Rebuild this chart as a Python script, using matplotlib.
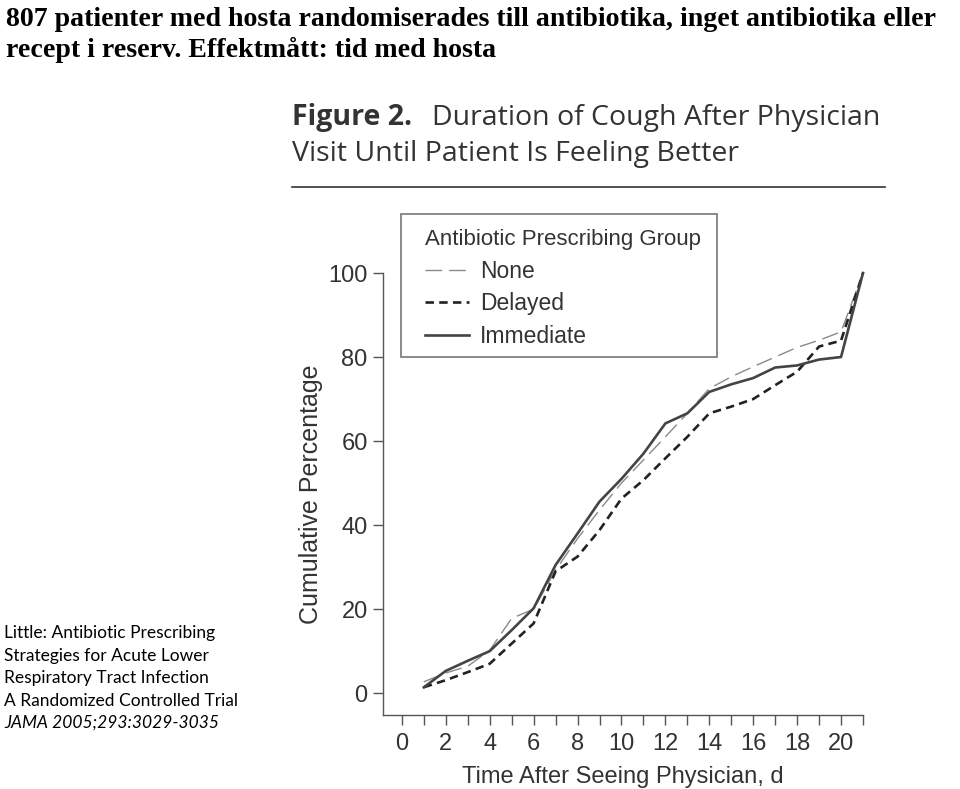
import numpy as np
import matplotlib.pyplot as plt
from matplotlib.patches import Rectangle

days = np.arange(1, 22)
none_pct = [2.7, 4.8, 6.4, 10.2, 17.8, 20.0, 29.3, 36.8, 43.6, 50.0, 55.5,
            61.0, 66.6, 72.5, 75.3, 77.7, 80.0, 82.3, 84.0, 86.0, 100.0]
delayed_pct = [1.4, 3.1, 5.0, 7.0, 11.8, 16.6, 29.0, 32.5, 38.8, 46.3, 50.7,
               55.9, 61.0, 66.6, 68.2, 70.0, 73.3, 76.5, 82.5, 83.9, 100.0]
immediate_pct = [1.4, 5.3, 7.7, 10.0, 15.0, 20.2, 30.5, 38.0, 45.6, 51.0, 57.0,
                 64.2, 66.6, 71.7, 73.5, 75.0, 77.5, 78.0, 79.4, 80.0, 100.0]

W, H = 960, 789
fig = plt.figure(figsize=(W / 100, H / 100), dpi=100)

def fx(px):
    return px / W

def fy(py):
    return 1 - py / H

# header in serif
fig.text(fx(6), fy(20), "807 patienter med hosta randomiserades till antibiotika, inget antibiotika eller",
         family="Liberation Serif", weight="bold", fontsize=20.1, va="center", ha="left")
fig.text(fx(6), fy(50), "recept i reserv. Effektmått: tid med hosta",
         family="Liberation Serif", weight="bold", fontsize=20.1, va="center", ha="left")

# figure title
fig.text(fx(292), fy(118), "Figure 2.", family="Open Sans", weight="bold", fontsize=20.5,
         color="#333333", va="center", ha="left")
fig.text(fx(432), fy(118), "Duration of Cough After Physician", family="Open Sans",
         fontsize=20.5, color="#333333", va="center", ha="left")
fig.text(fx(292), fy(154), "Visit Until Patient Is Feeling Better", family="Open Sans",
         fontsize=20.5, color="#333333", va="center", ha="left")
fig.add_artist(plt.Line2D([fx(292), fx(885)], [fy(187), fy(187)], color="#333333", lw=1.2))

# source text on the left
src = ["Little: Antibiotic Prescribing", "Strategies for Acute Lower",
       "Respiratory Tract Infection", "A Randomized Controlled Trial"]
for i, s in enumerate(src):
    fig.text(fx(4), fy(633 + 22.5 * i), s, family="Lato", fontsize=12.5, va="center", ha="left")
fig.text(fx(4), fy(633 + 22.5 * 4), "JAMA 2005;293:3029-3035", family="Lato", style="italic",
         fontsize=12.5, va="center", ha="left")

ax = fig.add_axes([fx(383), fy(715), fx(863) - fx(383), fy(273) - fy(715)])
ax.plot(days, none_pct, color="#8a8a8a", lw=1.0, ls=(0, (12, 5)), label="None", clip_on=False)
ax.plot(days, delayed_pct, color="#222222", lw=1.9, ls=(0, (3.2, 2)), label="Delayed", clip_on=False)
ax.plot(days, immediate_pct, color="#444444", lw=1.9, label="Immediate", clip_on=False)

ax.set_xlim(-0.86, 21)
ax.set_ylim(-5.2, 100)
for side in ["top", "right"]:
    ax.spines[side].set_visible(False)
for side in ["left", "bottom"]:
    ax.spines[side].set_color("#555555")
    ax.spines[side].set_linewidth(1.0)
ax.set_xticks(np.arange(0, 22))
ax.set_xticklabels([str(d) if d % 2 == 0 else "" for d in range(22)])
ax.set_yticks(np.arange(0, 101, 20))
ax.tick_params(axis="x", direction="out", length=7, width=1, color="#555555",
               labelsize=17, pad=6, labelcolor="#333333")
ax.tick_params(axis="y", direction="out", length=7, width=1, color="#555555",
               labelsize=17, pad=4, labelcolor="#333333")
for lab in ax.get_xticklabels() + ax.get_yticklabels():
    lab.set_family("Liberation Sans")
ax.set_xlabel("Time After Seeing Physician, d", family="Liberation Sans", fontsize=17,
              color="#333333", labelpad=8)
ax.set_ylabel("Cumulative Percentage", family="Liberation Sans", fontsize=18,
              color="#333333", labelpad=4)

# legend box drawn separately so its size matches
fig.add_artist(Rectangle((fx(401), fy(357)), fx(717) - fx(401), fy(214) - fy(357),
                         transform=fig.transFigure, fill=True, facecolor="white",
                         edgecolor="#777777", lw=1.2, zorder=3))
leg = fig.legend(loc="upper left", bbox_to_anchor=(fx(425), fy(229)), frameon=False,
                 title="Antibiotic Prescribing Group",
                 prop={"family": "Liberation Sans", "size": 16.5}, handlelength=1.9,
                 handletextpad=0.5, borderpad=0, labelspacing=0.42, borderaxespad=0)
leg.set_zorder(4)
leg._legend_box.align = "left"
leg.get_title().set_family("Liberation Sans")
leg.get_title().set_fontsize(16)
leg.get_title().set_color("#333333")
for t in leg.get_texts():
    t.set_color("#333333")

fig.savefig("out.png", dpi=100)
